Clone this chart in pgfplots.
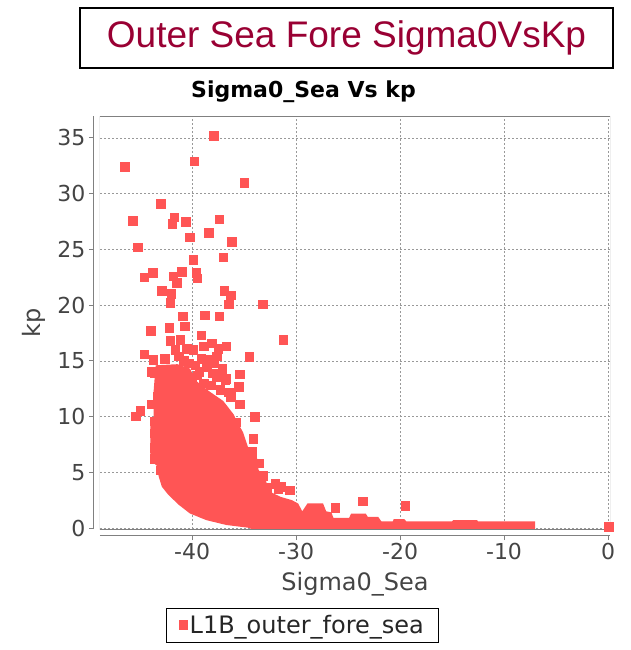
\documentclass[border=0pt]{standalone}
\usepackage{pgfplots}
\pgfplotsset{compat=1.18}
\usepackage{fontspec}
\setmainfont{DejaVu Sans}
\newfontfamily\arialfont{Liberation Sans}
\definecolor{ptred}{HTML}{FF5555}
\definecolor{titlered}{HTML}{990033}
\definecolor{lab}{HTML}{444444}
\begin{document}
\begin{tikzpicture}[x=1pt,y=1pt]
\useasboundingbox (0,0) rectangle (630,-650);
\node[draw=black, line width=1.2pt, minimum width=533pt, minimum height=60pt, inner sep=0pt] at (346.5,-38) {\arialfont\fontsize{37}{40}\selectfont\color{titlered}Outer Sea Fore Sigma0VsKp};
\node[anchor=base] at (303.5,-98) {\fontsize{22}{26}\selectfont\bfseries Sigma0\_Sea Vs kp};
\begin{axis}[
  at={(100pt,-116pt)}, anchor=north west,
  width=510pt, height=413pt, scale only axis,
  xmin=-48.85, xmax=0.19, ymin=-0.09, ymax=36.97,
  axis x line*=bottom, axis y line*=left,
  axis x line shift=6pt, axis y line shift=6pt,
  axis line style={gray, line width=1pt, -},
  xtick={-40,-30,-20,-10,0}, xticklabels={-40,-30,-20,-10,0},
  ytick={0,5,10,15,20,25,30,35}, yticklabels={0,5,10,15,20,25,30,35},
  tick align=outside, major tick length=5pt,
  tick style={gray, line width=1pt},
  ticklabel style={font=\fontsize{22}{26}\selectfont, text=lab},
  grid=major,
  major grid style={gray!80, line width=0.6pt, dash pattern=on 2pt off 2pt},
  xlabel={Sigma0\_Sea}, ylabel={kp},
  label style={font=\fontsize{24}{28}\selectfont, text=lab},
  xlabel style={at={(axis description cs:0.5,-0.148)}, anchor=base},
  ylabel style={at={(axis description cs:-0.129,0.5)}, anchor=center},
  legend style={at={(axis description cs:0.397,-0.191)}, anchor=north, draw=black, line width=1pt, font=\fontsize{24}{28}\selectfont, text=black!85, inner xsep=13pt, inner ysep=5pt},
  legend cell align=left,
]
\addplot[draw=none, fill=ptred, forget plot] coordinates {
(-43.5,14.6) (-41.4,14.7) (-40.2,14.3) (-39.6,13.2) (-38.4,12.3) (-37.0,11.4) (-36.0,10.2)
(-35.7,9.6) (-35.1,8.6) (-34.6,7.2) (-33.8,6.6) (-33.6,5.2) (-33.0,4.6) (-32.6,3.3)
(-31.5,2.8) (-30.4,2.5) (-29.8,2.2) (-29.4,1.5) (-28.9,2.2) (-27.4,2.2) (-27.1,1.5)
(-26.6,1.4) (-26.4,0.9) (-24.9,0.9) (-24.7,1.3) (-23.3,1.3) (-23.1,1.0) (-22.1,1.0)
(-21.8,0.6) (-20.7,0.6) (-20.6,0.8) (-19.6,0.8) (-19.4,0.6) (-15.0,0.6) (-14.9,0.7)
(-12.6,0.7) (-12.5,0.6) (-7.0,0.6) (-7.0,-0.3) (-34.4,-0.3) (-34.4,0.0) (-36.7,0.27)
(-38.6,0.7) (-40.2,1.3) (-41.3,2.1) (-42.3,3.0) (-42.9,3.7) (-43.2,4.6) (-43.4,5.6)
(-44.0,6.1) (-44.0,9.2) (-43.7,9.8) (-43.7,12.2) (-43.5,14.6)
} -- cycle;
\addplot[only marks, mark=square*, mark size=4.3pt, color=ptred] coordinates {
(-46.5,32.4) (-37.9,35.2) (-39.8,32.9) (-35.0,31.0) (-43.0,29.1) (-45.7,27.6)
(-41.7,27.9) (-41.9,27.3) (-40.6,27.5) (-37.4,27.7) (-40.2,26.1) (-38.4,26.5)
(-36.2,25.7) (-45.2,25.2) (-37.0,24.3) (-39.9,24.1) (-44.6,22.5) (-43.8,22.9)
(-41.8,22.6) (-41.0,23.0) (-41.5,22.0) (-39.6,22.9) (-39.5,22.4) (-42.9,21.3)
(-42.0,21.0) (-42.1,20.2) (-36.9,21.3) (-36.3,20.9) (-36.5,20.1) (-33.2,20.1)
(-40.9,19.0) (-40.7,18.1) (-38.8,19.1) (-37.4,19.0) (-44.0,17.7) (-42.2,18.0)
(-31.25,16.9) (-44.6,15.6) (-43.75,15.1) (-43.9,14.0) (-34.5,15.35) (-45.0,10.5)
(-45.4,10.05) (-34.0,10.0) (-35.4,13.8) (-35.5,12.7) (-35.4,11.1) (-34.1,8.0)
(-43.9,11.1)
(-39.1,17.3) (-38.1,16.6) (-42.1,16.8) (-41.15,16.9) (-41.6,16.0) (-40.5,16.1)
(-39.9,16.0) (-38.9,16.3) (-37.5,16.1) (-36.7,16.3) (-41.3,15.4) (-39.1,15.2)
(-38.4,15.1) (-37.6,15.4) (-39.7,14.6) (-38.6,14.5) (-37.1,14.3) (-39.5,13.7)
(-37.6,13.6) (-36.7,13.4) (-37.3,12.4) (-36.5,12.2) (-38.9,13.0) (-38.2,12.8)
(-36.3,11.8) (-36.8,13.3) (-40.8,15.0) (-42.6,15.2)
(-40.3,14.8) (-39.3,14.0) (-38.0,13.9) (-37.9,14.8)
(-43.6,13.9) (-43.3,11.8) (-43.6,9.6) (-43.6,8.5) (-43.6,7.2) (-43.6,6.2) (-43.0,5.2)
(-43.0,14.0) (-42.3,14.1) (-41.5,14.1) (-40.7,13.9) (-40.0,13.5)
(-35.8,9.5) (-34.2,6.9) (-33.6,5.8) (-33.2,4.7) (-32.8,3.6)
(-31.5,3.7) (-30.6,3.4) (-32.0,4.0) (-31.7,3.5)
(-26.25,1.8) (-23.6,2.4) (-19.5,2.0) (0.05,0.13)
};
\addlegendentry{L1B\_outer\_fore\_sea}
\draw[gray, line width=1pt] (rel axis cs:0,0) rectangle (rel axis cs:1,1);
\end{axis}
\end{tikzpicture}
\end{document}
